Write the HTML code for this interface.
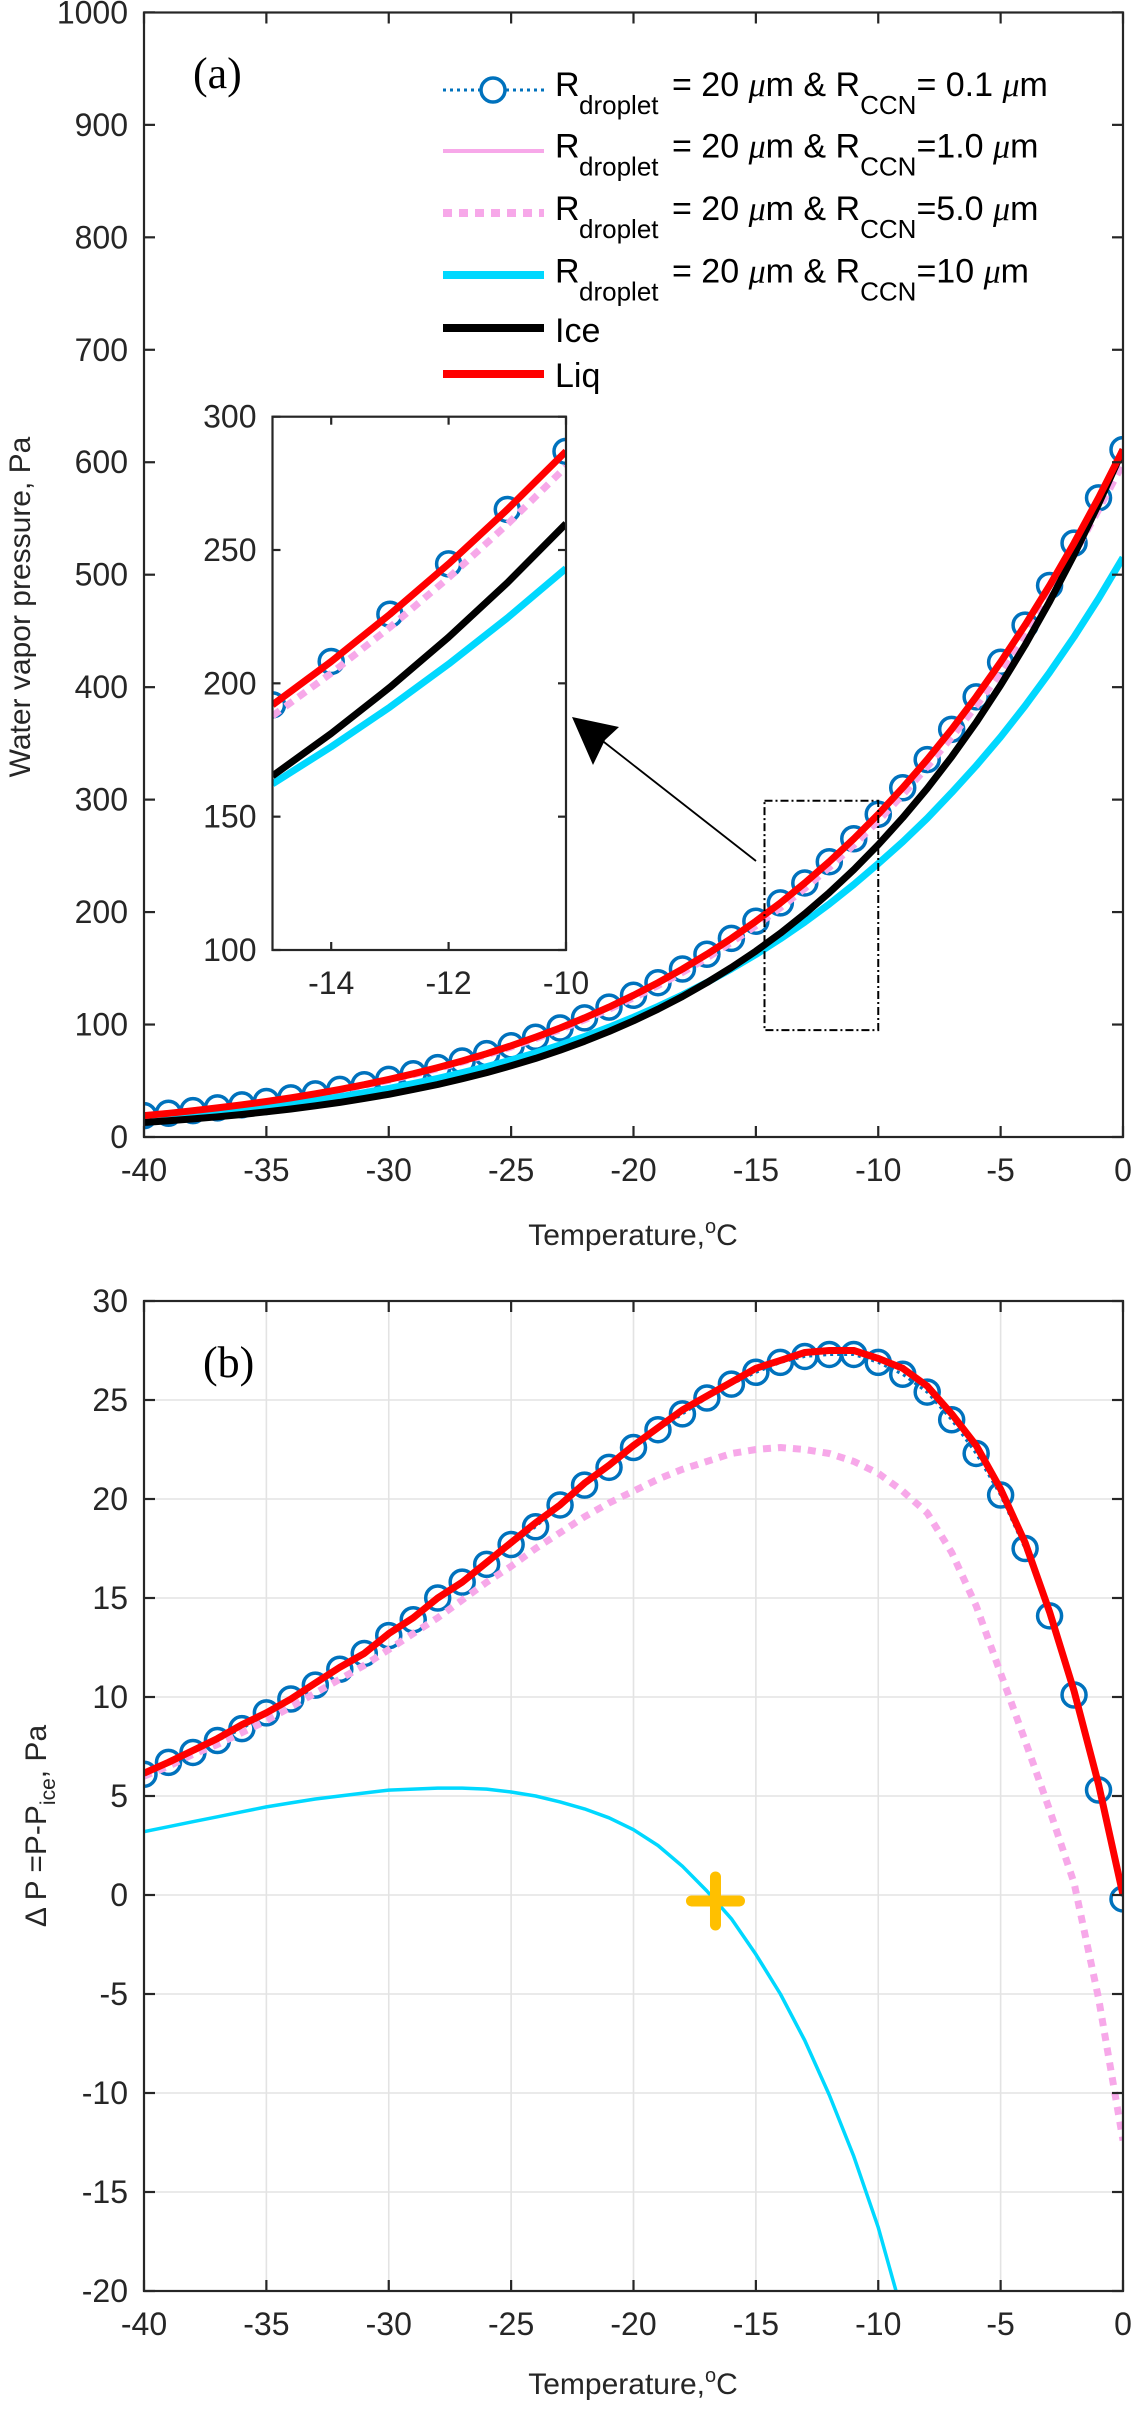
<!DOCTYPE html>
<html><head><meta charset="utf-8"><style>
html,body{margin:0;padding:0;background:#fff;width:1139px;height:2409px;overflow:hidden;}
svg{display:block;font-family:"Liberation Sans",sans-serif;}
</style></head><body>
<svg id="fig" width="1139" height="2409" viewBox="0 0 1139 2409" xmlns="http://www.w3.org/2000/svg">
<defs>
<clipPath id="clipA"><rect x="144" y="12.5" width="979" height="1124.5"/></clipPath>
<clipPath id="clipI"><rect x="272.5" y="416.7" width="293.5" height="533.3"/></clipPath>
<clipPath id="clipB"><rect x="144" y="1301" width="979" height="990"/></clipPath>
</defs>
<g id="gA"></g>
<g id="gI"></g>
<g id="gB"></g>
<text x="193" y="88" font-family="Liberation Serif, serif" font-size="44" fill="#000">(a)</text>
<text x="203" y="1377" font-family="Liberation Serif, serif" font-size="44" fill="#000">(b)</text>
<text transform="translate(30,607) rotate(-90)" text-anchor="middle" font-size="30" fill="#262626">Water vapor pressure, Pa</text>
<text x="633" y="1245" text-anchor="middle" font-size="30" fill="#262626">Temperature,<tspan font-size="20" dy="-12">o</tspan><tspan dy="12">C</tspan></text>
<text transform="translate(46,1826) rotate(-90)" text-anchor="middle" font-size="30" fill="#262626">Δ P =P-P<tspan font-size="21" dy="9">ice</tspan><tspan dy="-9">, Pa</tspan></text>
<text x="633" y="2394" text-anchor="middle" font-size="30" fill="#262626">Temperature,<tspan font-size="20" dy="-12">o</tspan><tspan dy="12">C</tspan></text>
<g id="legend"></g>
</svg>
<script>
// ---- data ----
const temps = [-40,-39,-38,-37,-36,-35,-34,-33,-32,-31,-30,-29,-28,-27,-26,-25,-24,-23,-22,-21,-20,-19,-18,-17,-16,-15,-14,-13,-12,-11,-10,-9,-8,-7,-6,-5,-4,-3,-2,-1,0];
const liqP = [19.0,21.1,23.4,25.9,28.6,31.6,34.8,38.4,42.3,46.5,51.2,56.2,61.7,67.6,74.1,81.1,88.7,96.9,105.9,115.5,126.0,137.2,149.4,162.5,176.6,191.9,208.2,225.9,244.8,265.2,287.0,310.5,335.6,362.5,391.4,422.2,455.2,490.4,528.1,568.3,611.2];
const iceP = [12.85,14.4,16.1,18.0,20.0,22.4,24.9,27.7,30.8,34.3,38.0,42.2,46.7,51.8,57.3,63.3,69.9,77.2,85.1,93.8,103.3,113.6,124.9,137.3,150.7,165.3,181.2,198.5,217.3,237.7,259.9,283.9,309.9,338.2,368.7,401.7,437.4,476.1,517.8,562.7,611.2];
const ccn01P = [19.0,21.1,23.4,25.9,28.6,31.6,34.8,38.4,42.3,46.5,51.2,56.2,61.7,67.6,74.1,81.1,88.7,96.9,105.9,115.5,126.0,137.2,149.4,162.5,176.6,191.9,208.2,225.9,244.8,265.2,287.0,310.5,335.6,362.5,391.4,422.2,455.2,490.4,528.1,568.3,611.2];
const ccn1P = [18.9,21.0,23.3,25.8,28.5,31.5,34.7,38.3,42.2,46.4,51.0,56.0,61.5,67.4,73.9,80.9,88.5,96.7,105.7,115.2,125.7,136.9,149.1,162.2,176.3,191.6,207.9,225.5,244.4,264.8,286.5,310.0,335.0,361.8,390.6,421.3,454.2,489.3,526.9,567.0,609.8];
const ccn5P = [18.9,20.9,23.2,25.6,28.2,31.2,34.4,37.9,41.7,45.9,50.4,55.4,60.7,66.7,73.1,79.9,87.4,95.5,104.2,113.6,123.7,134.6,146.4,159.2,173.0,187.8,203.8,221.0,239.6,259.6,281.2,304.3,329.2,355.5,383.3,412.9,445.2,480.4,518.4,557.5,598.8];
const ccn10P = [16.0,17.8,19.8,21.9,24.2,26.8,29.5,32.5,35.8,39.4,43.2,47.5,52.1,57.2,62.6,68.5,74.9,81.9,89.4,97.6,106.5,116.1,126.4,137.5,149.5,162.3,176.2,191.1,207.2,224.5,243.1,262.4,283.4,306.2,330.2,355.7,383.4,413.1,444.8,478.7,515.2];
// panel (b): P - P_ice
const dLiq = [6.15,6.7,7.3,7.9,8.6,9.2,9.9,10.7,11.5,12.2,13.2,14.0,15.0,15.8,16.8,17.8,18.8,19.7,20.8,21.7,22.7,23.6,24.5,25.2,25.9,26.6,27.0,27.4,27.5,27.5,27.1,26.6,25.7,24.3,22.7,20.5,17.8,14.3,10.3,5.6,0.0];
const dCcn01 = [6.1,6.7,7.2,7.8,8.4,9.2,9.9,10.6,11.4,12.2,13.1,13.9,15.0,15.8,16.7,17.7,18.6,19.7,20.7,21.6,22.6,23.5,24.3,25.1,25.8,26.4,26.9,27.2,27.3,27.3,26.9,26.3,25.4,24.0,22.3,20.2,17.5,14.1,10.1,5.3,-0.2];
const dCcn5 = [6.0,6.5,7.1,7.6,8.2,8.8,9.5,10.2,10.9,11.6,12.4,13.2,14.0,14.9,15.8,16.6,17.5,18.3,19.1,19.8,20.4,21.0,21.5,21.9,22.3,22.5,22.6,22.5,22.3,21.9,21.3,20.4,19.3,17.3,14.6,11.2,7.8,4.3,0.6,-5.2,-12.4];
const dCcn10 = [3.2,3.45,3.7,3.95,4.2,4.45,4.65,4.85,5.0,5.15,5.3,5.35,5.4,5.4,5.35,5.2,5.0,4.7,4.35,3.9,3.3,2.5,1.45,0.2,-1.2,-3.0,-5.0,-7.35,-10.1,-13.2,-16.8,-21.2,-26.0,-31.5,-37.5,-44.0,-51.0,-58.5,-66.5,-75.0,-84.0];
const crossPoint = [-16.65, -0.3];
const xTicks = [-40,-35,-30,-25,-20,-15,-10,-5,0];
const aYTicks = [0,100,200,300,400,500,600,700,800,900,1000];
const bYTicks = [-20,-15,-10,-5,0,5,10,15,20,25,30];
const inXTicks = [-14,-12,-10];
const inYTicks = [100,150,200,250,300];

// ---- axes ----
const NS='http://www.w3.org/2000/svg';
function mk(tag, attrs, parent){const e=document.createElementNS(NS,tag);for(const k in attrs)e.setAttribute(k,attrs[k]);parent.appendChild(e);return e;}
const xA = t => 144 + (t+40)*24.475;
const yA = v => 1137 - v*1.1246;
const xI = t => 272.5 + (t+15)*58.7;
const yI = v => 950 - (v-100)*2.6667;
const yB = v => 2291 - (v+20)*19.8;
const gA=document.getElementById('gA'), gI=document.getElementById('gI'), gB=document.getElementById('gB'), gL=document.getElementById('legend');
const pts=(xs,ys,fx,fy)=>xs.map((t,i)=>fx(t).toFixed(1)+','+fy(ys[i]).toFixed(1)).join(' ');

// panel B grid
const gridB = mk('g',{stroke:'#e3e3e3','stroke-width':1.6},gB);


xTicks.forEach(t=>{ if(t>-40&&t<0){ const l=mk('line',{x1:xA(t),x2:xA(t),y1:1301,y2:2291},gridB);

}});
bYTicks.forEach(v=>{ if(v>-20&&v<30){ const l=mk('line',{x1:144,x2:1123,y1:yB(v),y2:yB(v)},gridB);

}});

function drawSeries(g, clip, fx, fy, xs, sets){
  const c = mk('g',{'clip-path':'url(#'+clip+')'},g);
  
  
  sets.forEach(s=>{
    if(s.type==='circ'){
      const dl=mk('polyline',{points:pts(xs,s.v,fx,fy),fill:'none',stroke:'#0072BD','stroke-width':3,'stroke-dasharray':'3 4'},c);
      
      
      xs.forEach((t,i)=>{const ci=mk('circle',{cx:fx(t),cy:fy(s.v[i]),r:12,fill:'none',stroke:'#0072BD','stroke-width':3.5},c);
        
        });
    } else {
      const p=mk('polyline',{points:pts(xs,s.v,fx,fy),fill:'none',stroke:s.c,'stroke-width':s.w,'stroke-linejoin':'round'},c);
      if(s.d) p.setAttribute('stroke-dasharray',s.d);
      
      
    }
  });
}
const setsA = [
  {type:'circ',v:ccn01P},
  {v:ccn1P,c:'#F7A8E9',w:3,n:'ccn-1.0-line'},
  {v:ccn5P,c:'#F7A8E9',w:7,d:'9 7',n:'ccn-5.0-line'},
  {v:ccn10P,c:'#00D8FF',w:7,n:'ccn-10-line'},
  {v:iceP,c:'#000',w:7,n:'ice-line'},
  {v:liqP,c:'#FF0000',w:7,n:'liq-line'}
];
drawSeries(gA,'clipA',xA,yA,temps,setsA);

function axesBox(g,x0,y0,x1,y1,nm){
  const r=mk('rect',{x:x0,y:y0,width:x1-x0,height:y1-y0,fill:'none',stroke:'#262626','stroke-width':2.2},g);
  
  
}
function ticks(g,fx,fy,xt,yt,x0,y0,x1,y1,len,fs,pre){
  xt.forEach(t=>{const x=fx(t);
    const a=mk('line',{x1:x,x2:x,y1:y1,y2:y1-len,stroke:'#262626','stroke-width':2.2},g);
    
    
    const b=mk('line',{x1:x,x2:x,y1:y0,y2:y0+len,stroke:'#262626','stroke-width':2.2},g);
    
    
    const tx=mk('text',{x:x,y:y1+44,'text-anchor':'middle','font-size':fs,fill:'#262626'},g);
    tx.textContent=String(t);
    
    
  });
  yt.forEach(v=>{const y=fy(v);
    const a=mk('line',{x1:x0,x2:x0+len,y1:y,y2:y,stroke:'#262626','stroke-width':2.2},g);
    
    
    const b=mk('line',{x1:x1,x2:x1-len,y1:y,y2:y,stroke:'#262626','stroke-width':2.2},g);
    
    
    const tx=mk('text',{x:x0-16,y:y+11,'text-anchor':'end','font-size':fs,fill:'#262626'},g);
    tx.textContent=String(v);
    
    
  });
}
axesBox(gA,144,12.5,1123,1137,'panel-a-axes-box');
ticks(gA,xA,yA,xTicks,aYTicks,144,12.5,1123,1137,11,32,'panel-a');

// zoom rectangle & arrow
const zr=mk('rect',{x:764.5,y:yA(299),width:xA(-10)-764.5,height:yA(95)-yA(299),fill:'none',stroke:'#000','stroke-width':2,'stroke-dasharray':'8 3 2 3'},gA);


const ar=mk('line',{x1:756,y1:861,x2:595,y2:735,stroke:'#000','stroke-width':1.8},gA);


const ah=mk('polygon',{points:'572,717 619,727 605,740 593,765',fill:'#000'},gA);



// inset
const ib=mk('rect',{x:272.5,y:416.7,width:293.5,height:533.3,fill:'#fff'},gI);


const insT=temps.slice(25,31);
drawSeries(gI,'clipI',xI,yI,insT,setsA.map(s=>Object.assign({},s,{v:s.v.slice(25,31)})));
axesBox(gI,272.5,416.7,566,950,'inset-axes-box');
ticks(gI,xI,yI,inXTicks,inYTicks,272.5,416.7,566,950,8,32,'inset');

// panel b
drawSeries(gB,'clipB',xA,yB,temps,[
  {type:'circ',v:dCcn01},
  {v:dCcn5,c:'#F7A8E9',w:7,d:'8 7',n:'ccn-5.0-delta-line'},
  {v:dCcn10,c:'#00D8FF',w:3.5,n:'ccn-10-delta-line'},
  {v:dLiq,c:'#FF0000',w:7,n:'liq-delta-line'}
]);
axesBox(gB,144,1301,1123,2291,'panel-b-axes-box');
ticks(gB,xA,yB,xTicks,bYTicks,144,1301,1123,2291,11,32,'panel-b');
const cx=xA(crossPoint[0]), cy=yB(crossPoint[1]);
const cr=mk('path',{d:`M${cx-24},${cy}H${cx+24}M${cx},${cy-24}V${cy+24}`,stroke:'#FFC000','stroke-width':11,'stroke-linecap':'round'},gB);



// legend
const rowsY=[90,151,213,275], labels=['= 0.1 ','=1.0 ','=5.0 ','=10 '];
const styles=[{c:'#0072BD',w:3,d:'3 4'},{c:'#F7A8E9',w:4},{c:'#F7A8E9',w:8,d:'9 7'},{c:'#00D8FF',w:8}];
rowsY.forEach((y,i)=>{
  const s=styles[i];
  const l=mk('line',{x1:443,x2:544,y1:y,y2:y,stroke:s.c,'stroke-width':s.w},gL);
  if(s.d) l.setAttribute('stroke-dasharray',s.d);
  
  
  if(i===0){const c=mk('circle',{cx:493,cy:y,r:12,fill:'#fff',stroke:'#0072BD','stroke-width':3.5},gL);
    
    }
  const b=y+6+ (i===0?0:i*0.5);
  const t=mk('text',{x:555,y:b,'font-size':34,fill:'#000'},gL);
  t.innerHTML='R<tspan x="579" dy="18" font-size="26">droplet</tspan><tspan x="672" dy="-18">= 20 <tspan font-style="italic" font-family="Liberation Serif, serif">μ</tspan>m &amp; R</tspan><tspan dy="18" font-size="26">CCN</tspan><tspan dy="-18">'+labels[i]+'<tspan font-style="italic" font-family="Liberation Serif, serif">μ</tspan>m</tspan>';
  
  
});
[[328,'#000','Ice',342],[374,'#FF0000','Liq',387]].forEach(r=>{
  const l=mk('line',{x1:443,x2:544,y1:r[0],y2:r[0],stroke:r[1],'stroke-width':8},gL);
  
  
  const t=mk('text',{x:555,y:r[3],'font-size':34,fill:'#000'},gL);
  t.textContent=r[2];
  
  
});
</script>
</body></html>
